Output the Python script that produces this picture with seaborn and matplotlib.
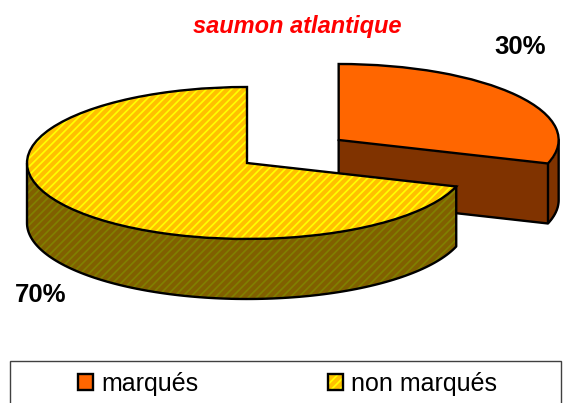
import numpy as np
import matplotlib
matplotlib.use("Agg")
import matplotlib.pyplot as plt
from matplotlib.patches import Patch, Rectangle
from matplotlib.legend_handler import HandlerTuple
import seaborn as sns

categories = ["marqués", "non marqués"]
values = [30, 70]
title = "saumon atlantique"

top_colors = ["#FF6600", "#FFFF00"]
stripe_colors = ["#FF6600", "#FFC000"]
wall_colors = ["#803300", "#808000"]
wall_stripe = "#806000"

sns.set_theme(style="white")
plt.rcParams["font.family"] = ["Liberation Sans", "DejaVu Sans"]
plt.rcParams["hatch.linewidth"] = 3.0

W, H = 568, 403
fig = plt.figure(figsize=(W / 100, H / 100), dpi=100, facecolor="white")
ax = fig.add_axes([0, 0, 1, 1])

RX, RY = 220.0, 76.0
CX, CY = 247.0, 163.0
DEPTH = 60.0 / RY
EXPLODE = 0.515
LW = 1.7
HATCH = "////"

shares = np.array(values, dtype=float) / sum(values)
boundary = 90 - 360 * shares[0]
mid = np.radians(90 - 180 * shares[0])
ox, oy = EXPLODE * np.cos(mid), EXPLODE * np.sin(mid)

fills, _ = ax.pie(values, startangle=90, counterclock=False, explode=[EXPLODE, 0],
                  colors=top_colors, hatch=[None, HATCH],
                  wedgeprops=dict(linewidth=0))
for w, c in zip(fills, stripe_colors):
    w.set_edgecolor(c)
lines, _ = ax.pie(values, startangle=90, counterclock=False, explode=[EXPLODE, 0],
                  wedgeprops=dict(fill=False, edgecolor="black", linewidth=LW))
fills[0].set_zorder(2); lines[0].set_zorder(2.5)
fills[1].set_zorder(4); lines[1].set_zorder(4.5)

ex, ey = ox + np.cos(np.radians(boundary)), oy + np.sin(np.radians(boundary))
ax.fill_between([ox, ex], [oy, ey], [oy - DEPTH, ey - DEPTH], color=wall_colors[0], lw=0, zorder=1)
th = np.radians(np.linspace(boundary, 0, 40))
ax.fill_between(ox + np.cos(th), oy + np.sin(th), oy + np.sin(th) - DEPTH,
                color=wall_colors[0], lw=0, zorder=1)
ax.plot(np.r_[ox, ox, ex, ox + np.cos(th), ox + 1],
        np.r_[oy, oy - DEPTH, ey - DEPTH, oy + np.sin(th) - DEPTH, oy],
        color="black", lw=LW, zorder=1.5, solid_joinstyle="round")
ax.plot([ex, ex], [ey, ey - DEPTH], color="black", lw=LW, zorder=1.5)

th = np.radians(np.linspace(180, 360 + boundary, 120))
ax.fill_between(np.cos(th), np.sin(th), np.sin(th) - DEPTH,
                facecolor=wall_colors[1], edgecolor=wall_stripe, hatch=HATCH, lw=0, zorder=3)
ax.plot(np.r_[-1, np.cos(th), np.cos(th[-1])],
        np.r_[0, np.sin(th) - DEPTH, np.sin(th[-1])],
        color="black", lw=LW, zorder=3.5, solid_joinstyle="round")

ax.set_aspect("auto")
ax.set_xlim(-CX / RX, (W - CX) / RX)
ax.set_ylim((CY - H) / RY, CY / RY)
ax.axis("off")

fig.text(297.5 / W, 1 - 26.5 / H, title, color="#FF0000", fontsize=17, fontweight="bold",
         fontstyle="italic", ha="center", va="center")
fig.text(520 / W, 1 - 46.5 / H, f"{values[0]}%", color="black", fontsize=18.5, fontweight="bold",
         ha="center", va="center")
fig.text(40.5 / W, 1 - 294.5 / H, f"{values[1]}%", color="black", fontsize=18.5, fontweight="bold",
         ha="center", va="center")

fig.add_artist(Rectangle((10 / W, -0.05), 551 / W, 0.05 + (H - 361) / H, transform=fig.transFigure,
                         facecolor="white", edgecolor="#404040", linewidth=1.0, zorder=-1))
handles = [
    (Patch(facecolor=top_colors[0], edgecolor=stripe_colors[0], lw=0),
     Patch(fill=False, edgecolor="black", lw=LW)),
    (Patch(facecolor=top_colors[1], edgecolor=stripe_colors[1], hatch=HATCH, lw=0),
     Patch(fill=False, edgecolor="black", lw=LW)),
]
leg = ax.legend(handles, categories, handler_map={tuple: HandlerTuple(ndivide=1, pad=0)},
                ncol=2, loc="center left", bbox_to_anchor=(78 / W, 1 - 384 / H),
                bbox_transform=fig.transFigure, fontsize=18, frameon=False, labelcolor="black",
                borderpad=0, borderaxespad=0, handlelength=0.6, handleheight=0.6,
                handletextpad=0.32, columnspacing=5.2, labelspacing=0)
leg.set_zorder(6)

fig.savefig("out.png", dpi=100, facecolor="white")
